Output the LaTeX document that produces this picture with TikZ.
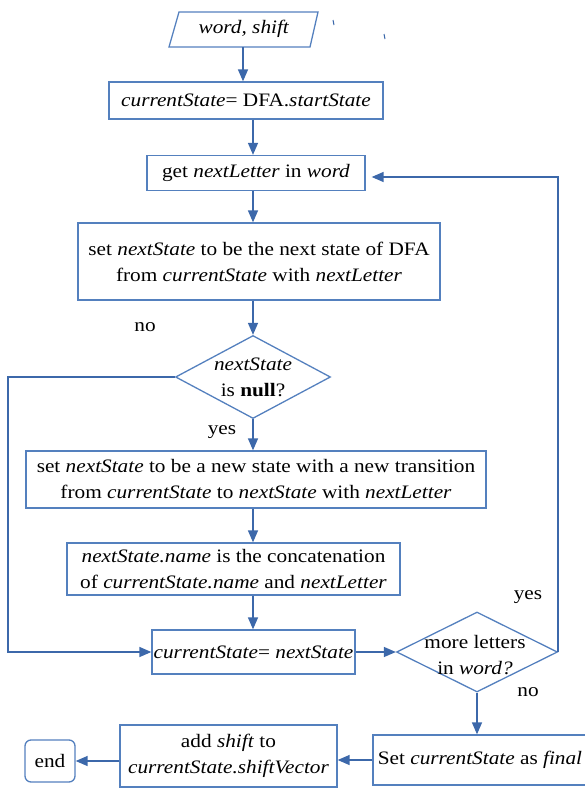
\documentclass[tikz,border=0pt]{standalone}
\usepackage{fontspec}
\setmainfont{Liberation Serif}[FakeStretch=1.12]
\usetikzlibrary{arrows.meta,shapes.geometric}
\definecolor{boxblue}{RGB}{84,128,190}
\definecolor{flowblue}{RGB}{60,104,170}
\begin{document}
\begin{tikzpicture}[x=1pt,y=-1pt,
  every node/.style={font=\fontsize{19}{26}\selectfont, text=black},
  box/.style={draw=boxblue, line width=1.3pt, inner sep=0pt, align=center},
  decision/.style={diamond, draw=boxblue, line width=1.3pt, inner sep=0pt},
  flow/.style={draw=flowblue, line width=1.4pt, -{Triangle[length=12pt,width=10pt]}},
  lbl/.style={inner sep=0pt, align=center}
]
\useasboundingbox (0,0) rectangle (584,790);

% input parallelogram
\draw[boxblue, line width=1.3pt] (179,12) -- (318,12) -- (310,47) -- (169,47) -- cycle;
\node[lbl] (in) at (244,29) {\textit{word, shift}};
\coordinate (inbot) at (243,47);

% process boxes
\node[box, minimum width=274pt, minimum height=37pt] (b2) at (246,100.5) {\textit{currentState}= DFA.\textit{startState}};
\node[box, minimum width=218pt, minimum height=35pt] (b3) at (256,173) {get \textit{nextLetter} in \textit{word}};
\node[box, minimum width=362pt, minimum height=77pt] (b4) at (259,261.5) {set \textit{nextState} to be the next state of DFA\\from \textit{currentState} with \textit{nextLetter}};
\node[decision, minimum width=155pt, minimum height=83pt] (d1) at (253,377) {};
\node[lbl] (d1t) at (d1) {\textit{nextState}\\is \textbf{null}?};
\node[box, minimum width=460pt, minimum height=57pt] (b5) at (256,479.5) {set \textit{nextState} to be a new state with a new transition\\from \textit{currentState} to \textit{nextState} with \textit{nextLetter}};
\node[box, minimum width=333pt, minimum height=52pt] (b6) at (233.5,569) {\textit{nextState.name} is the concatenation\\of \textit{currentState.name} and \textit{nextLetter}};
\node[box, minimum width=203pt, minimum height=44pt] (b7) at (253.5,652) {\textit{currentState}= \textit{nextState}};
\node[decision, minimum width=161pt, minimum height=80pt] (d2) at (477,652) {};
\node[lbl] (d2t) at (475,655) {more letters\\in \textit{word?}};
\node[box, minimum width=214pt, minimum height=50pt] (b8) at (480,760) {Set \textit{currentState} as \textit{final}};
\node[box, minimum width=217pt, minimum height=62pt] (b9) at (228.5,756) {add \textit{shift} to\\\textit{currentState.shiftVector}};
\node[box, rounded corners=6pt, minimum width=50pt, minimum height=42pt] (endn) at (50,761) {end};

% branch labels
\node[lbl] (no1) at (145,327) {no};
\node[lbl] (yes1) at (222,432) {yes};
\node[lbl] (yes2) at (528,597) {yes};
\node[lbl] (no2) at (528,692) {no};

% rails
\coordinate (spine) at (253,0);
\coordinate (leftrail) at (8,0);

% connectors
\draw[flow] (inbot) -- (inbot |- b2.north);
\draw[flow] (b2.south -| spine) -- (b3.north -| spine);
\draw[flow] (b3.south -| spine) -- (b4.north -| spine);
\draw[flow] (b4.south -| spine) -- (d1.north);
\draw[flow] (d1.south) -- (b5.north -| spine);
\draw[flow] (b5.south -| spine) -- (b6.north -| spine);
\draw[flow] (b6.south -| spine) -- (b7.north -| spine);
\draw[flow] (d1.west) -- (d1.west -| leftrail) -- (b7.west -| leftrail) -- (b7.west);
\draw[flow] (b7.east) -- (d2.west);
\draw[flow] (d2.east) -- ([yshift=-4pt]b3.east -| d2.east) -- ([xshift=6pt,yshift=-4pt]b3.east);
\draw[flow] (d2.south) -- (b8.north -| d2.south);
\draw[flow] (b8.west) -- (b9.east |- b8.west);
\draw[flow] (b9.west |- endn.east) -- (endn.east);

% small stray strokes near the top
\draw[flowblue, line width=1pt] (333,20) -- (334,25);
\draw[flowblue, line width=1pt] (384,34) -- (385,39);
\end{tikzpicture}
\end{document}
